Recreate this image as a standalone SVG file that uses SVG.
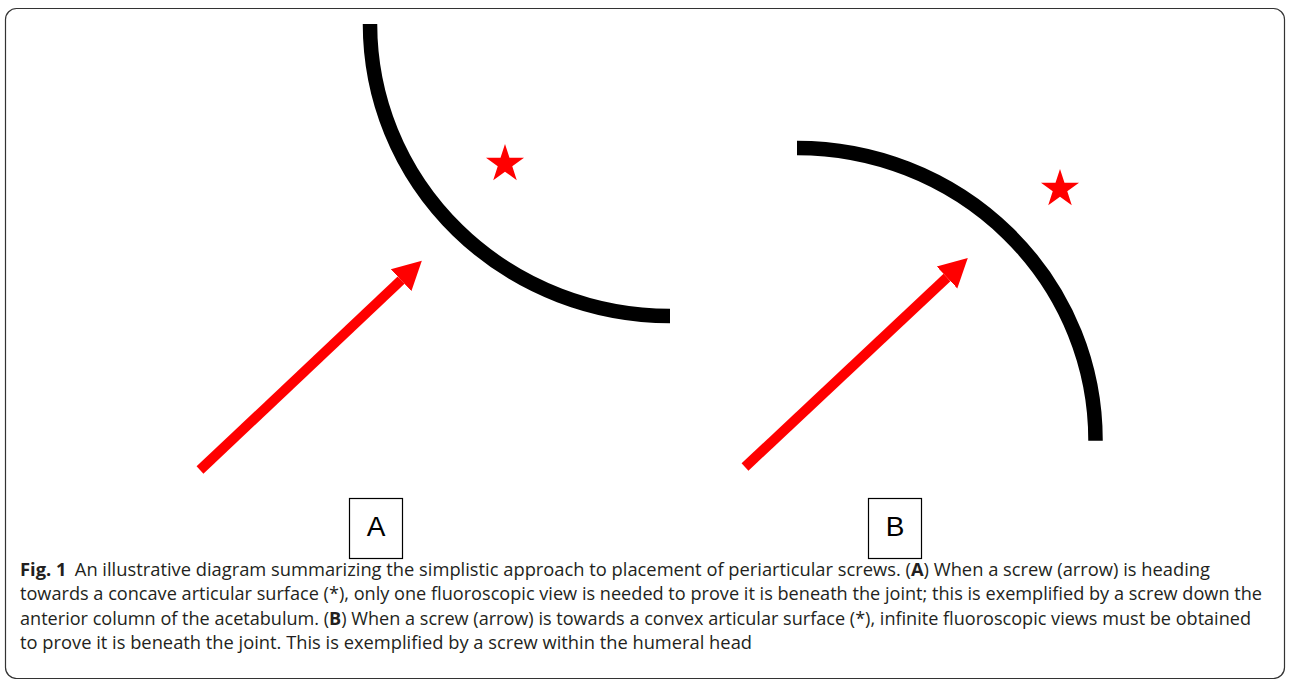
<svg xmlns="http://www.w3.org/2000/svg" width="1290" height="679" viewBox="0 0 1290 679">
  <style>
    .surface { fill: none; stroke: #000; stroke-width: 14.5; stroke-linecap: butt; }
    .screw { fill: none; stroke: #ff0000; stroke-width: 10; stroke-linecap: butt; }
    .star { fill: #ff0000; }
    .labelbox { fill: #fff; stroke: #000; stroke-width: 1.2; }
    .label { font-family: "Liberation Sans", Arial, sans-serif; font-size: 28px; fill: #000; text-anchor: middle; }
    .cap { font-family: "Open Sans", "Noto Sans", sans-serif; font-size: 17.5px; fill: #231f20; }
    .b { font-weight: bold; }
  </style>
  <defs>
    <marker id="head" markerUnits="userSpaceOnUse" markerWidth="30" markerHeight="32" refX="0" refY="15" orient="auto" viewBox="0 0 30 30">
      <path d="M0,0 L28.5,15 L0,30 Z" fill="#ff0000"/>
    </marker>
    <path id="starShape" d="M0,-20 L4.49,-6.18 L19.02,-6.18 L7.27,2.36 L11.76,16.18 L0,7.64 L-11.76,16.18 L-7.27,2.36 L-19.02,-6.18 L-4.49,-6.18 Z"/>
  </defs>
  <rect x="5.5" y="8.5" width="1279" height="670" rx="11" ry="11" fill="#fff" stroke="#333" stroke-width="1.2"/>

  <g id="panelA">
    <path id="surfaceA" class="surface" d="M370,24 A300,292 0 0 0 670,316"/>
    <use id="starA" class="star" href="#starShape" x="505" y="164"/>
    <g id="labelA">
      <rect class="labelbox" x="349.5" y="498.5" width="53" height="60"/>
      <text class="label" x="376" y="535.5">A</text>
    </g>
  </g>

  <g id="panelB">
    <path id="surfaceB" class="surface" d="M797,148 A298.5,292 0 0 1 1095.5,440.7"/>
    <use id="starB" class="star" href="#starShape" x="1060" y="189"/>
    <g id="labelB">
      <rect class="labelbox" x="868.5" y="498.5" width="53" height="60"/>
      <text class="label" x="895" y="535.5">B</text>
    </g>
  </g>

  <g id="connectors">
    <path id="arrowA" class="screw" d="M200,470 L401.1,280.2" marker-end="url(#head)"/>
    <path id="arrowB" class="screw" d="M745,467 L947,277.5" marker-end="url(#head)"/>
  </g>

  <g id="caption">
    <text class="cap" x="20" y="576" textLength="1190" lengthAdjust="spacingAndGlyphs"><tspan class="b">Fig. 1</tspan><tspan dx="8">An illustrative diagram summarizing the simplistic approach to placement of periarticular screws. (</tspan><tspan class="b">A</tspan>) When a screw (arrow) is heading</text>
    <text class="cap" x="20" y="600" textLength="1242" lengthAdjust="spacingAndGlyphs">towards a concave articular surface (*), only one fluoroscopic view is needed to prove it is beneath the joint; this is exemplified by a screw down the</text>
    <text class="cap" x="20" y="624.5" textLength="1231" lengthAdjust="spacingAndGlyphs">anterior column of the acetabulum. (<tspan class="b">B</tspan>) When a screw (arrow) is towards a convex articular surface (*), infinite fluoroscopic views must be obtained</text>
    <text class="cap" x="20" y="649" textLength="732" lengthAdjust="spacingAndGlyphs">to prove it is beneath the joint. This is exemplified by a screw within the humeral head</text>
  </g>
</svg>
